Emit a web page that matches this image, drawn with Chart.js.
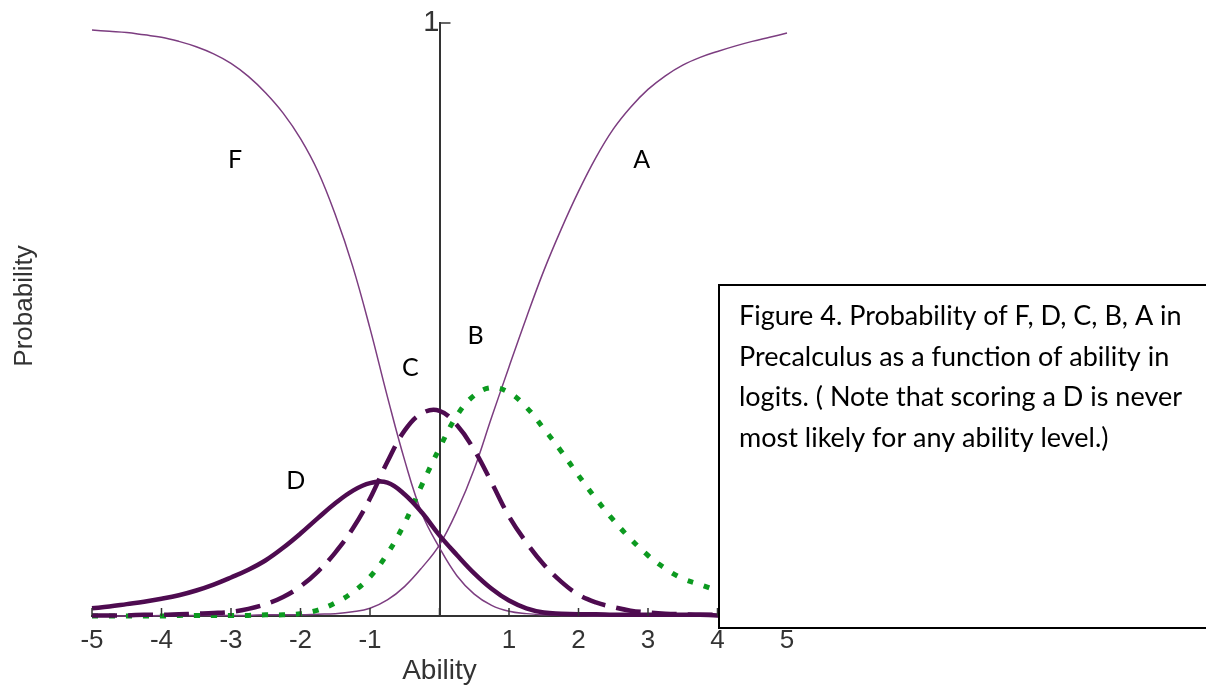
<!DOCTYPE html>
<html>
<head>
<meta charset="utf-8">
<script src="https://cdn.jsdelivr.net/npm/chart.js@4.4.0/dist/chart.umd.min.js"></script>
<style>
  html, body { margin: 0; padding: 0; background: #fff; }
  #wrap { position: relative; width: 1206px; height: 690px; }
</style>
</head>
<body>
<div id="wrap"><canvas id="chart" width="1206" height="690"></canvas></div>
<script>
// ability in logits, every quarter step
const ability = [-5, -4.75, -4.5, -4.25, -4, -3.75, -3.5, -3.25, -3, -2.75, -2.5, -2.25, -2, -1.75, -1.5, -1.25, -1, -0.75, -0.5, -0.25,
  0, 0.25, 0.5, 0.75, 1, 1.25, 1.5, 1.75, 2, 2.25, 2.5, 2.75, 3, 3.25, 3.5, 3.75, 4, 4.25, 4.5, 4.75, 5];

// probability of each grade
const probF = [0.988, 0.986, 0.984, 0.980, 0.976, 0.969, 0.960, 0.948, 0.932, 0.910, 0.882, 0.848, 0.805, 0.750, 0.677, 0.590, 0.485, 0.370, 0.262, 0.172,
  0.115, 0.068, 0.037, 0.018, 0.008, 0.004, 0.002, 0.001, 0.001, 0, 0, 0, 0, 0, 0, 0, 0, 0, 0, 0, 0];
const probD = [0.013, 0.016, 0.020, 0.024, 0.029, 0.035, 0.043, 0.053, 0.065, 0.078, 0.094, 0.115, 0.139, 0.165, 0.190, 0.211, 0.224, 0.225, 0.205, 0.174,
  0.136, 0.103, 0.072, 0.046, 0.026, 0.013, 0.006, 0.004, 0.003, 0.003, 0.002, 0.002, 0.002, 0.002, 0.002, 0.002, 0.001, 0.001, 0.001, 0.001, 0.001];
const probC = [0.001, 0.001, 0.001, 0.002, 0.002, 0.003, 0.004, 0.005, 0.007, 0.012, 0.020, 0.032, 0.050, 0.075, 0.107, 0.147, 0.198, 0.260, 0.313, 0.342,
  0.346, 0.322, 0.280, 0.225, 0.168, 0.124, 0.087, 0.058, 0.036, 0.023, 0.015, 0.009, 0.006, 0.004, 0.003, 0.002, 0.002, 0.001, 0.001, 0.001, 0.001];
const probB = [0, 0, 0, 0, 0, 0.001, 0.001, 0.001, 0.001, 0.001, 0.002, 0.002, 0.004, 0.010, 0.022, 0.040, 0.066, 0.105, 0.157, 0.222,
  0.283, 0.338, 0.372, 0.385, 0.377, 0.352, 0.316, 0.278, 0.237, 0.198, 0.162, 0.130, 0.102, 0.080, 0.063, 0.053, 0.043, 0.035, 0.028, 0.022, 0.017];
const probA = [0, 0, 0, 0, 0.001, 0.001, 0.001, 0.001, 0.001, 0.001, 0.002, 0.002, 0.002, 0.003, 0.004, 0.007, 0.013, 0.027, 0.050, 0.082,
  0.120, 0.177, 0.248, 0.335, 0.420, 0.503, 0.582, 0.652, 0.716, 0.773, 0.821, 0.858, 0.888, 0.911, 0.929, 0.942, 0.952, 0.961, 0.969, 0.976, 0.983];

const xTicks = [-5, -4, -3, -2, -1, 0, 1, 2, 3, 4, 5];
const xTickLabels = ['-5', '-4', '-3', '-2', '-1', '', '1', '2', '3', '4', '5'];
const yTicks = [1];

// curve names written next to the curves (data coordinates)
const curveNames = ['F', 'A', 'D', 'C', 'B'];
const nameX = [-2.94, 2.91, -2.07, -0.42, 0.52];
const nameY = [0.769, 0.769, 0.228, 0.418, 0.472];

const caption = [
  'Figure 4. Probability of F, D, C, B, A in',
  'Precalculus as a function of ability in',
  'logits. ( Note that scoring a D is never',
  'most likely for any ability level.)'
];

const toPoints = ys => ys.map((y, i) => ({ x: ability[i], y: y }));

const thin = '#7c3d80';
const dark = '#4e0b50';
const green = '#0c9a20';

const decor = {
  id: 'decor',
  afterDraw(chart) {
    const { ctx, chartArea, scales } = chart;
    const x = scales.x, y = scales.y;
    ctx.save();

    // inward tick marks
    ctx.strokeStyle = '#333';
    ctx.lineWidth = 1.5;
    xTicks.forEach(v => {
      const px = x.getPixelForValue(v);
      ctx.beginPath();
      ctx.moveTo(px, chartArea.bottom);
      ctx.lineTo(px, chartArea.bottom - 8);
      ctx.stroke();
    });
    const x0 = x.getPixelForValue(0);
    yTicks.forEach(v => {
      const py = y.getPixelForValue(v);
      ctx.beginPath();
      ctx.moveTo(x0, py);
      ctx.lineTo(x0 + 11, py);
      ctx.stroke();
    });

    // curve names
    ctx.fillStyle = '#000';
    ctx.font = '25px Lato';
    ctx.textAlign = 'center';
    ctx.textBaseline = 'middle';
    curveNames.forEach((t, i) => {
      ctx.fillText(t, x.getPixelForValue(nameX[i]), y.getPixelForValue(nameY[i]));
    });

    // y title
    ctx.save();
    ctx.translate(25, 306);
    ctx.rotate(-Math.PI / 2);
    ctx.fillStyle = '#333';
    ctx.font = '26px "Liberation Sans"';
    ctx.fillText('Probability', 0, 0);
    ctx.restore();

    // caption box laid over the plot
    ctx.fillStyle = '#fff';
    ctx.fillRect(719, 285, 500, 345);
    ctx.strokeStyle = '#000';
    ctx.lineWidth = 2;
    ctx.strokeRect(719, 285, 500, 343);
    ctx.fillStyle = '#000';
    ctx.font = '27px Lato';
    ctx.textAlign = 'left';
    ctx.textBaseline = 'alphabetic';
    caption.forEach((line, i) => ctx.fillText(line, 739, 325 + i * 40.7));

    ctx.restore();
  }
};

new Chart(document.getElementById('chart'), {
  type: 'line',
  data: {
    datasets: [
      { label: 'D', data: toPoints(probD), borderColor: dark, borderWidth: 4.5 },
      { label: 'C', data: toPoints(probC), borderColor: dark, borderWidth: 4.5, borderDash: [25, 11] },
      { label: 'B', data: toPoints(probB), borderColor: green, borderWidth: 5, borderDash: [6, 11] },
      { label: 'F', data: toPoints(probF), borderColor: thin, borderWidth: 1.5 },
      { label: 'A', data: toPoints(probA), borderColor: thin, borderWidth: 1.5 }
    ]
  },
  options: {
    responsive: false,
    animation: false,
    clip: false,
    elements: { point: { radius: 0 }, line: { tension: 0.4 } },
    layout: { padding: { left: 92, right: 419, top: 23, bottom: 0 } },
    plugins: { legend: { display: false }, tooltip: { enabled: false } },
    scales: {
      x: {
        type: 'linear',
        min: -5,
        max: 5,
        afterBuildTicks: s => { s.ticks = xTicks.map(v => ({ value: v })); },
        afterFit: s => { s.height = 74; s.paddingLeft = 0; s.paddingRight = 0; },
        ticks: {
          callback: (v, i) => xTickLabels[i],
          color: '#333',
          padding: 9,
          font: { family: 'Liberation Sans', size: 26 }
        },
        grid: { display: false, drawTicks: false },
        border: { display: true, color: '#333', width: 2 },
        title: {
          display: true,
          text: 'Ability',
          color: '#333',
          padding: { top: 0, bottom: 2 },
          font: { family: 'Liberation Sans', size: 28 }
        }
      },
      y: {
        type: 'linear',
        min: 0,
        max: 1,
        position: { x: 0 },
        afterBuildTicks: s => { s.ticks = yTicks.map(v => ({ value: v })); },
        afterFit: s => { s.paddingTop = 0; s.paddingBottom = 0; },
        ticks: {
          color: '#333',
          padding: 11,
          font: { family: 'Liberation Sans', size: 29 }
        },
        grid: { display: false, drawTicks: false },
        border: { display: true, color: '#333', width: 2 }
      }
    }
  },
  plugins: [decor]
});
</script>
</body>
</html>
